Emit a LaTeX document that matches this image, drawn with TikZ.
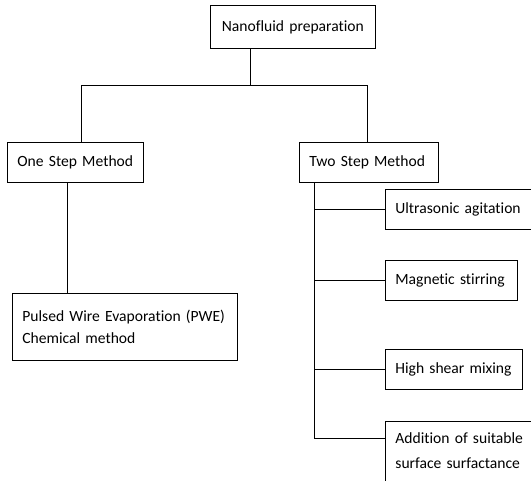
\documentclass[tikz,border=0pt]{standalone}
\usepackage{fontspec}
\setmainfont{Carlito}[Ligatures=NoCommon]

\begin{document}
\begin{tikzpicture}[x=0.75pt, y=-0.75pt,
	box/.style = {draw, line width=0.6pt, anchor=north west, align=left, inner xsep=7.5pt, inner ysep=0pt, minimum height=30pt, font=\fontsize{11.7}{16.5}\selectfont}]
	\useasboundingbox (0,0) rectangle (531,481);
	\clip (0,0) rectangle (531,481);

	\node[box, align=center, text width=108.75pt, minimum height=32.25pt] (prep) at (210,5) {Nanofluid~preparation};

	\node[box, text width=87pt] (one) at (7,142) {One~Step~Method};
	\node[box, text width=89.25pt] (two) at (299,142) {Two~Step~Method};

	\node[box, text width=153.75pt, minimum height=50.25pt] (pwe) at (12,293) {Pulsed~Wire~Evaporation~(PWE)\\Chemical~method};

	\node[box, text width=97.5pt] (ultra) at (385,189) {Ultrasonic~agitation};
	\node[box, text width=84pt] (magnet) at (385,260) {Magnetic~stirring};
	\node[box, text width=87.75pt] (shear) at (385,349) {High~shear~mixing};
	\node[box, text width=97.5pt, inner ysep=8.5pt, text height=8pt, text depth=60pt] (surf) at (385,421) {Addition~of~suitable\\[2pt]surface~surfactance};

	% joints of the tree
	\coordinate (split) at (250,85);
	\coordinate (left) at (81,85);
	\coordinate (right) at (367,85);
	\coordinate (drop) at (67,182);
	\coordinate (trunk) at (314,182);
	\coordinate (foot) at (314,438);

	\draw (split |- prep.south) -- (split);
	\draw (left |- one.north) -- (left) -- (right) -- (right |- two.north);
	\draw (drop) -- (drop |- pwe.north);

	\draw (trunk) -- (foot) -- (foot -| surf.west);
	\draw (trunk |- ultra.west) -- (ultra.west);
	\draw (trunk |- magnet.west) -- (magnet.west);
	\draw (trunk |- shear.west) -- (shear.west);
\end{tikzpicture}
\end{document}
